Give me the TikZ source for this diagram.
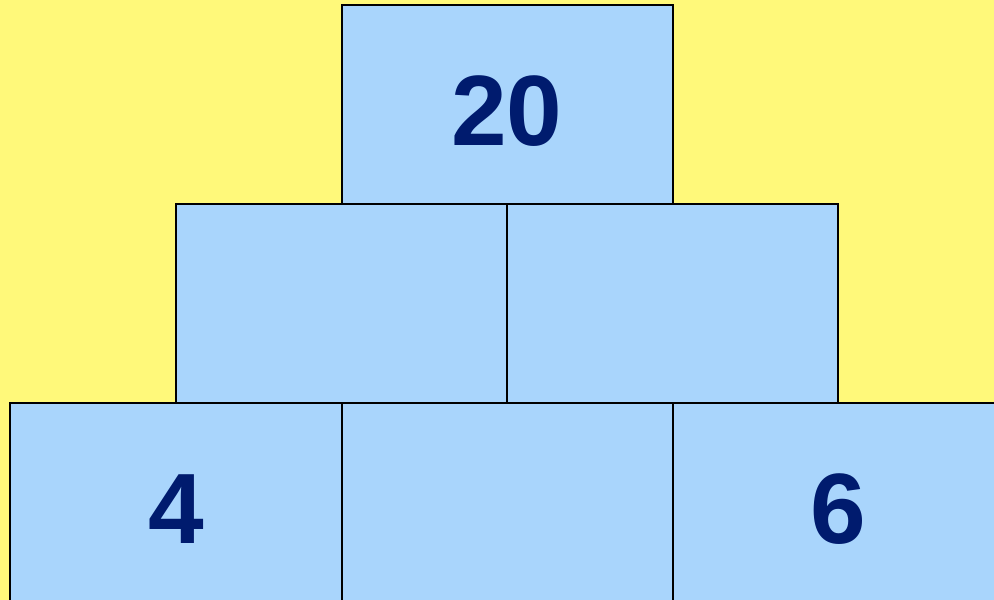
\documentclass[tikz,border=0pt]{standalone}
\usepackage{fontspec}
\setmainfont{Liberation Sans}
\definecolor{bgyellow}{HTML}{FFF97A}
\definecolor{boxblue}{HTML}{A9D5FC}
\definecolor{numblue}{HTML}{001B6E}
\begin{document}
\begin{tikzpicture}[x=1pt,y=-1pt,
  brick/.style={draw=black,line width=1.6pt,fill=boxblue},
  num/.style={anchor=base,text=numblue,font=\fontsize{100}{100}\selectfont\bfseries,inner sep=0pt}]
\useasboundingbox (0,0) rectangle (994,600);
\clip (0,0) rectangle (994,600);
\fill[bgyellow] (0,0) rectangle (994,600);
% top row
\draw[brick] (342,5) rectangle (673,204);
% middle row
\draw[brick] (176,204) rectangle (507,403);
\draw[brick] (507,204) rectangle (838,403);
% bottom row
\draw[brick] (10,403) rectangle (342,602);
\draw[brick] (342,403) rectangle (673,602);
\draw[brick] (673,403) rectangle (1004,602);
\node[num] (t) at (507,145) {20};
\node[num] (l) at (176,543) {4};
\node[num] (r) at (838,543) {6};
\end{tikzpicture}
\end{document}
